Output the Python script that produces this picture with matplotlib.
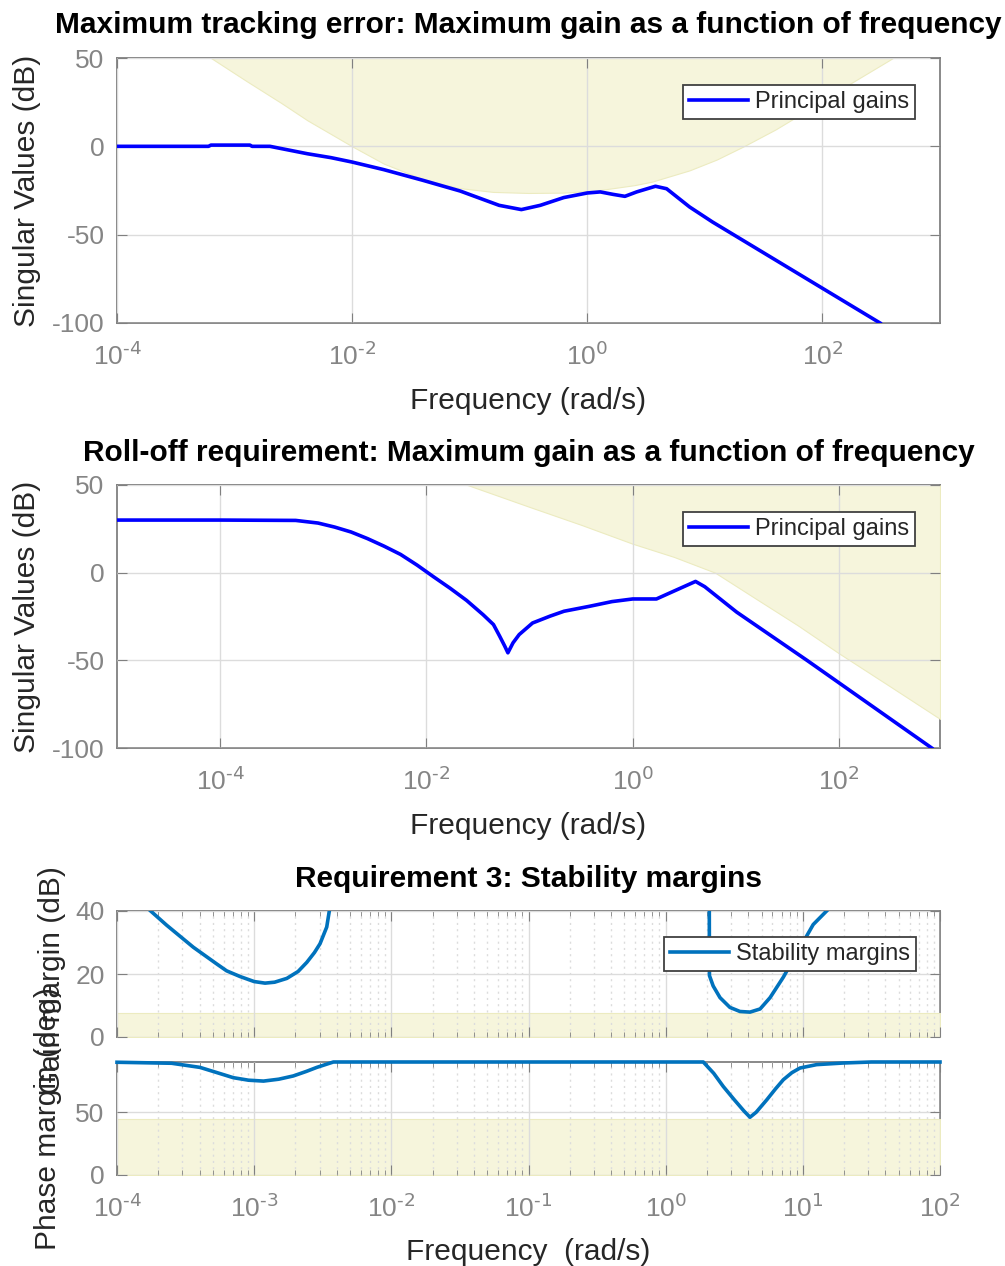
import matplotlib
matplotlib.use("Agg")
import matplotlib.pyplot as plt
from matplotlib.ticker import FixedLocator, LogLocator, NullFormatter
import numpy as np

plt.rcParams['font.family'] = ['Liberation Sans', 'DejaVu Sans']
plt.rcParams['mathtext.default'] = 'regular'
plt.rcParams['axes.unicode_minus'] = False

# --- tracking error plot ---
track_w = [1.0e-4, 6.0e-4, 6.3e-4, 1.35e-3, 1.41e-3, 2.0e-3, 2.51e-3, 4.17e-3, 6.6e-3,
           1.0e-2, 1.86e-2, 3.98e-2, 8.3e-2, 0.178, 0.275, 0.398, 0.631, 1.0, 1.29,
           1.66, 2.09, 2.63, 3.8, 4.73, 7.41, 11.6, 309.0]
track_db = [0.0, 0.0, 0.7, 0.7, 0.0, 0.0, -1.3, -4.2, -6.4,
            -8.9, -13.2, -19.2, -25.3, -33.4, -35.8, -33.4, -29.0, -26.4, -25.8,
            -27.2, -28.3, -25.8, -22.6, -24.0, -34.3, -42.8, -100.0]
track_bound_w = [6.3e-4, 1.26e-3, 2.5e-3, 4.17e-3, 1.0e-2, 1.86e-2, 3.98e-2, 7.9e-2, 0.158,
                 0.316, 0.631, 1.26, 2.51, 3.55, 7.41, 12.6, 21.4, 39.8, 79.4, 158.0, 398.0]
track_bound_db = [50, 37, 24.5, 14.7, 0.0, -9.8, -18.5, -23.5, -25.8,
                  -26.4, -26.2, -24.8, -22.0, -20.0, -13.6, -7.5, 0.0, 9.5, 21.5, 34.0, 50]

# --- roll-off plot ---
roll_w = [1.0e-5, 1.0e-4, 5.4e-4, 8.9e-4, 1.29e-3, 1.86e-3, 2.69e-3, 3.89e-3, 5.62e-3,
          8.13e-3, 1.17e-2, 1.70e-2, 2.45e-2, 3.55e-2, 4.47e-2, 5.13e-2, 5.75e-2, 6.17e-2,
          6.92e-2, 7.94e-2, 0.107, 0.158, 0.216, 0.38, 0.63, 1.0, 1.70, 2.45, 4.07, 5.0,
          10.2, 49.0, 794.0]
roll_db = [30, 30, 29.8, 28.3, 26, 23.2, 19.4, 15.1, 10.4,
           4.3, -2.3, -8.9, -15.8, -24, -29.6, -36.2, -41.9, -45.7,
           -40, -35.3, -28.7, -24.8, -22, -19.2, -16.5, -15, -15, -10.8, -5, -8,
           -22.5, -50, -100]
roll_bound_w = [2.5e-2, 0.1, 0.316, 1.0, 2.51, 6.3, 15.8, 39.8, 100.0, 316.0, 955.0]
roll_bound_db = [50, 37.5, 27.3, 16.5, 9, 0, -15, -30, -46, -65, -83.4]

# --- stability margins ---
gm_w = [1.76e-4, 2.30e-4, 3.60e-4, 5.33e-4, 6.3e-4, 7.89e-4, 1.0e-3, 1.20e-3, 1.41e-3,
        1.73e-3, 2.09e-3, 2.42e-3, 2.75e-3, 3.02e-3, 3.38e-3, 3.53e-3, 0.1,
        2.08, 2.085, 2.22, 2.49, 2.94, 3.48, 4.12, 4.88, 5.77, 7.21, 9.02, 11.9, 14.9]
gm_db = [40, 35.5, 28.5, 23.2, 21.0, 19.2, 17.6, 17.1, 17.4,
         18.6, 20.8, 23.7, 26.8, 29.6, 34.9, 40, np.nan,
         40, 19.5, 16.2, 12.5, 9.4, 8.1, 7.9, 8.9, 12.5, 19.0, 26.5, 35.7, 40]
pm_w = [1.0e-4, 2.5e-4, 4.03e-4, 5.37e-4, 7.05e-4, 9.1e-4, 1.17e-3, 1.51e-3, 1.93e-3,
        2.40e-3, 2.86e-3, 3.78e-3, 1.88, 2.24, 2.63, 3.16, 3.72, 4.12, 4.57, 5.46,
        6.31, 7.21, 8.32, 9.53, 12.6, 19.7, 31.6, 100.0]
pm_deg = [89.8, 89.0, 85.7, 81.5, 77.5, 75.5, 74.8, 76.3, 78.9,
          82.5, 85.7, 90, 90, 81, 70.5, 60, 51, 46, 50, 59.9,
          68.5, 75.9, 81.5, 85.2, 87.9, 89.2, 90, 90]
gm_req = 7.6
pm_req = 45

shade = "#f6f5dc"
shade_edge = "#ecebc0"
axcol = "#808080"
tickcol = "#858585"
labcol = "#262626"
gridcol = "#dcdcdc"


def decade_labels(exps):
    return [r"$10^{\text{%d}}$" % e for e in exps]


def style(ax):
    for s in ax.spines.values():
        s.set_color(axcol)
        s.set_linewidth(1.3)
        s.set_zorder(2.3)
    ax.tick_params(which="both", direction="in", top=True, right=True,
                   colors=axcol, labelcolor=tickcol, labelsize=19)
    ax.tick_params(which="major", length=7)
    ax.tick_params(which="minor", length=3.5)
    ax.tick_params(axis="x", pad=14)
    ax.tick_params(axis="y", pad=9)
    ax.grid(True, which="major", color=gridcol, linewidth=1.0)
    # shading sits over the spines, grid sits over the shading
    ax.set_axisbelow(False)


def shade_fill(ax, x, y1, y2):
    ax.fill_between(x, y1, y2, color=shade, edgecolor=shade_edge, linewidth=0.8, zorder=2.4)


def legend(ax, line, label, anchor):
    lg = ax.legend([line], [label], loc="upper right", bbox_to_anchor=anchor, borderaxespad=0,
                   fontsize=17, handlelength=2.5, handletextpad=0.3, borderpad=0.25,
                   fancybox=False, framealpha=1, edgecolor="#404040", labelcolor=labcol)
    lg.get_frame().set_linewidth(1.3)
    lg.set_zorder(5)
    return lg


fig = plt.figure(figsize=(10.05, 12.66), dpi=100)
W, H = 1005.0, 1266.0


def axes_px(left, top, right, bottom):
    return fig.add_axes([left / W, 1 - bottom / H, (right - left) / W, (bottom - top) / H])


# top
ax1 = axes_px(117, 58, 940, 323)
shade_fill(ax1, track_bound_w, track_bound_db, 50)
l1, = ax1.semilogx(track_w, track_db, color="#0000ff", lw=2.6, zorder=3)
ax1.set_xlim(1e-4, 1e3)
ax1.set_ylim(-100, 50)
ax1.xaxis.set_major_locator(FixedLocator([1e-4, 1e-2, 1e0, 1e2]))
ax1.set_xticklabels(decade_labels([-4, -2, 0, 2]))
ax1.xaxis.set_minor_locator(FixedLocator([]))
ax1.set_yticks([-100, -50, 0, 50])
style(ax1)
ax1.set_title("Maximum tracking error: Maximum gain as a function of frequency",
              fontsize=21.5, fontweight="bold", pad=18)
ax1.set_xlabel("Frequency (rad/s)", fontsize=21.5, color=labcol, labelpad=12)
ax1.set_ylabel("Singular Values (dB)", fontsize=21.5, color=labcol)
ax1.yaxis.set_label_coords(-0.092, 0.5)
legend(ax1, l1, "Principal gains", (0.9696, 0.898))

# middle
ax2 = axes_px(117, 485, 940, 748)
shade_fill(ax2, roll_bound_w, roll_bound_db, 50)
l2, = ax2.semilogx(roll_w, roll_db, color="#0000ff", lw=2.6, zorder=3)
ax2.set_xlim(1e-5, 955)
ax2.set_ylim(-100, 50)
ax2.xaxis.set_major_locator(FixedLocator([1e-4, 1e-2, 1e0, 1e2]))
ax2.set_xticklabels(decade_labels([-4, -2, 0, 2]))
ax2.xaxis.set_minor_locator(FixedLocator([]))
ax2.set_yticks([-100, -50, 0, 50])
style(ax2)
ax2.set_title("Roll-off requirement: Maximum gain as a function of frequency",
              fontsize=21.5, fontweight="bold", pad=17)
ax2.set_xlabel("Frequency (rad/s)", fontsize=21.5, color=labcol, labelpad=12)
ax2.set_ylabel("Singular Values (dB)", fontsize=21.5, color=labcol)
ax2.yaxis.set_label_coords(-0.092, 0.5)
legend(ax2, l2, "Principal gains", (0.9696, 0.897))

# stability margins
ax3 = axes_px(117, 911, 940, 1037)
ax4 = axes_px(117, 1062, 940, 1175)
blue = "#0072bd"
shade_fill(ax3, [1e-4, 1e2], 0, gm_req)
l3, = ax3.semilogx(gm_w, gm_db, color=blue, lw=2.6, zorder=3)
ax3.set_ylim(0, 40)
ax3.set_yticks([0, 20, 40])
shade_fill(ax4, [1e-4, 1e2], 0, pm_req)
ax4.semilogx(pm_w, pm_deg, color=blue, lw=2.6, zorder=3, clip_on=False)
ax4.set_ylim(0, 90)
ax4.set_yticks([0, 50])
for ax in (ax3, ax4):
    ax.set_xlim(1e-4, 1e2)
    ax.xaxis.set_major_locator(FixedLocator([10.0 ** e for e in range(-4, 3)]))
    ax.xaxis.set_minor_locator(LogLocator(base=10, subs=np.arange(2, 10), numticks=20))
    ax.xaxis.set_minor_formatter(NullFormatter())
    style(ax)
    ax.grid(True, which="minor", axis="x", color=gridcol, linestyle=(0, (1.5, 3)), linewidth=1.0)
ax3.set_xticklabels([])
ax4.set_xticklabels(decade_labels(range(-4, 3)))
ax3.set_title("Requirement 3: Stability margins", fontsize=21.5, fontweight="bold", pad=17)
ax3.set_ylabel("Gain margin (dB)", fontsize=21.5, color=labcol)
ax3.yaxis.set_label_coords(-0.062, 0.45)
ax4.set_ylabel("Phase margin (deg)", fontsize=21.5, color=labcol)
ax4.yaxis.set_label_coords(-0.067, 0.5)
ax4.set_xlabel("Frequency  (rad/s)", fontsize=21.5, color=labcol, labelpad=11)
legend(ax3, l3, "Stability margins", (0.9708, 0.791))

fig.savefig("out.png", dpi=100)
